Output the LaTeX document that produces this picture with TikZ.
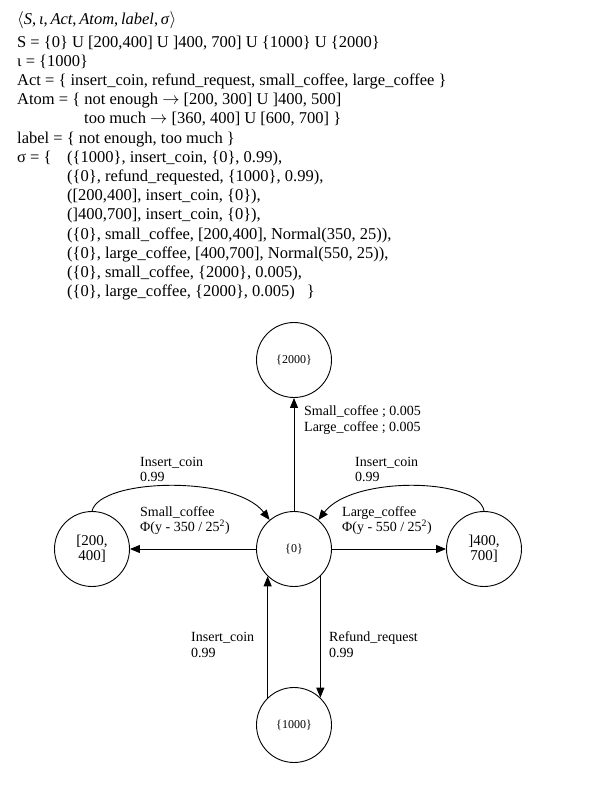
\documentclass[tikz,border=0pt]{standalone}
\usepackage{fontspec}
\setmainfont{Liberation Serif}
\usetikzlibrary{arrows.meta}
\begin{document}
\begin{tikzpicture}[x=1pt,y=-1pt,
  state/.style={draw, circle, minimum size=75pt, inner sep=0pt, line width=0.9pt, font=\fontsize{12}{14}\selectfont, align=center},
  bigstate/.style={state, font=\fontsize{15}{15}\selectfont},
  hdr/.style={anchor=base west, inner sep=0pt, font=\fontsize{16.5}{19}\selectfont},
  lbl/.style={anchor=base west, inner sep=0pt, font=\fontsize{14}{16}\selectfont},
  arr/.style={-{Triangle[length=10pt,width=8pt]}, line width=0.9pt}]
\fill[white] (0,0) rectangle (600,793);
\useasboundingbox (0,0) rectangle (600,793);

% header
\node[hdr] (h0) at (17,24) {$\big\langle$\textit{S},\,\textit{ι},\,\textit{Act},\,\textit{Atom},\,\textit{label},\,\textit{σ}$\big\rangle$};
\node[hdr] (h1) at (17,47) {S = \{0\} U [200,400] U ]400, 700] U \{1000\} U \{2000\}};
\node[hdr] (h2) at (17,66.2) {ι = \{1000\}};
\node[hdr] (h3) at (17,85.4) {Act = \{ insert\_coin, refund\_request, small\_coffee, large\_coffee \}};
\node[hdr] (h4) at (17,104.6) {Atom = \{ not enough $\rightarrow$ [200, 300] U ]400, 500]};
\node[hdr] (h5) at (84,123.8) {too much $\rightarrow$ [360, 400] U [600, 700] \}};
\node[hdr] (h6) at (17,143) {label = \{ not enough, too much \}};
\node[hdr] (h7a) at (17,162.2) {σ = \{};
\node[hdr] (h7b) at (67,162.2) {(\{1000\}, insert\_coin, \{0\}, 0.99),};
\node[hdr] (h8) at (67,181.4) {(\{0\}, refund\_requested, \{1000\}, 0.99),};
\node[hdr] (h9) at (67,200.6) {([200,400], insert\_coin, \{0\}),};
\node[hdr] (h10) at (67,219.8) {(]400,700], insert\_coin, \{0\}),};
\node[hdr] (h11) at (67,239) {(\{0\}, small\_coffee, [200,400], Normal(350, 25)),};
\node[hdr] (h12) at (67,258.2) {(\{0\}, large\_coffee, [400,700], Normal(550, 25)),};
\node[hdr] (h13) at (67,277.4) {(\{0\}, small\_coffee, \{2000\}, 0.005),};
\node[hdr] (h14) at (67,296.6) {(\{0\}, large\_coffee, \{2000\}, 0.005)\hspace{12pt}\}};

% states
\node[state] (n0) at (294,549) {\{0\}};
\node[state] (n2000) at (294,360) {\{2000\}};
\node[state] (n1000) at (294,725) {\{1000\}};
\node[bigstate] (nL) at (92,549) {[200,\\400]};
\node[bigstate] (nR) at (484,549) {]400,\\700]};

% edges
\draw[arr] (n0) -- (n2000);
\draw[arr] (n0) -- (nL);
\draw[arr] (n0) -- (nR);
\draw[arr] (n1000.134) -- (n0.226);
\draw[arr] (n0.314) -- (n1000.46);
\draw[arr] (nL.north) .. controls (100,478) and (235,475) .. (n0.130);
\draw[arr] (nR.north) .. controls (479,478) and (353,475) .. (n0.50);

% labels
\node[lbl] (t1) at (304,415) {Small\_coffee ; 0.005};
\node[lbl] (t2) at (304,431) {Large\_coffee ; 0.005};
\node[lbl] (t3) at (140,466) {Insert\_coin};
\node[lbl] (t4) at (140,481) {0.99};
\node[lbl] (t5) at (355,466) {Insert\_coin};
\node[lbl] (t6) at (355,481) {0.99};
\node[lbl] (t7) at (140,516.5) {Small\_coffee};
\node[lbl] (t8) at (140,531.5) {Φ(y - 350 / 25\textsuperscript{2})};
\node[lbl] (t9) at (342,516.5) {Large\_coffee};
\node[lbl] (t10) at (342,531.5) {Φ(y - 550 / 25\textsuperscript{2})};
\node[lbl] (t11) at (191,641.5) {Insert\_coin};
\node[lbl] (t12) at (191,657) {0.99};
\node[lbl] (t13) at (329,641.5) {Refund\_request};
\node[lbl] (t14) at (329,657) {0.99};
\end{tikzpicture}
\end{document}
